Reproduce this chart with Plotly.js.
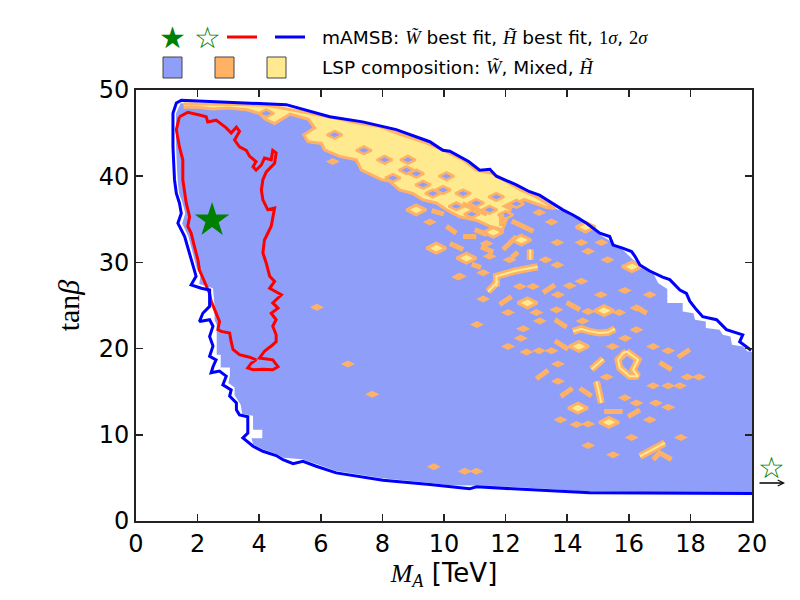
<!DOCTYPE html>
<html><head><meta charset="utf-8">
<script src="https://cdn.plot.ly/plotly-3.0.1.min.js"></script>
<style>html,body{margin:0;padding:0;background:#fff}</style>
</head><body><div id="chart" style="width:800px;height:600px"></div>
<script>
// ---------------- data ----------------
const xTickVals = [0,2,4,6,8,10,12,14,16,18,20];
const yTickVals = [0,10,20,30,40,50];

// 2 sigma contour (blue)
const blueContour = [[19.97,19.8],[19.93,19.9],[19.6,20.8],[19.7,21.6],[19.5,21.8],[19.17,22.2],[18.85,23.35],[18.4,23.7],[18.2,24.5],[17.98,25.5],[17.87,26.4],[17.66,26.8],[17.33,28.0],[17.1,28.3],[16.68,29.0],[16.36,29.7],[16.2,30.7],[16.09,31.26],[15.8,31.65],[15.49,32.0],[15.38,33.0],[15.06,33.4],[14.63,34.55],[14.19,35.5],[13.86,36.1],[13.33,37.25],[13.1,37.8],[12.78,38.2],[12.35,39.0],[11.7,40.0],[11.49,40.8],[11.16,40.7],[10.8,41.7],[10.19,42.9],[9.96,43.0],[9.54,44.0],[8.45,45.4],[7.36,46.3],[6.29,46.9],[4.88,48.3],[3.04,48.6],[1.47,48.8],[1.31,48.5],[1.2,47.3],[1.2,43.4],[1.25,39.6],[1.31,38.0],[1.41,36.9],[1.47,35.7],[1.36,34.55],[1.58,33.0],[1.74,31.1],[1.85,29.5],[1.95,28.4],[1.79,27.4],[2.12,27.0],[2.39,26.8],[2.39,24.9],[2.17,24.1],[2.06,23.15],[2.39,23.35],[2.5,22.6],[2.39,21.4],[2.5,20.3],[2.39,19.1],[2.6,18.7],[2.5,17.9],[2.44,17.2],[2.71,17.4],[2.93,16.8],[2.82,15.8],[3.09,15.2],[3.04,14.5],[3.26,13.7],[3.26,12.9],[3.36,12.3],[3.63,12.1],[3.63,10.2],[3.47,9.64],[3.8,8.67],[4.12,8.09],[4.55,7.59],[4.77,7.13],[5.1,6.66],[5.42,6.93],[5.85,6.35],[6.5,5.58],[8.02,4.73],[9.54,4.23],[10.19,3.96],[10.83,3.73],[11.05,3.96],[13.43,3.57],[14.73,3.27],[20.0,3.19]];

// 1 sigma contour (red)
const redContour = [[1.41,46.9],[1.68,47.4],[2.06,47.1],[2.28,46.9],[2.33,46.3],[2.6,46.5],[2.93,45.6],[3.09,45.0],[3.26,45.7],[3.36,45.2],[3.2,44.2],[3.36,43.4],[3.58,43.0],[3.69,42.3],[3.9,41.7],[3.8,41.1],[3.9,40.7],[4.07,41.3],[4.17,42.1],[4.39,41.9],[4.44,43.0],[4.55,42.7],[4.5,41.5],[4.23,40.5],[4.12,39.6],[4.07,38.4],[4.12,37.25],[4.28,36.1],[4.5,36.3],[4.44,35.3],[4.39,34.2],[4.17,32.6],[4.12,31.1],[4.23,29.9],[4.34,28.4],[4.5,27.8],[4.34,27.0],[4.72,26.25],[4.44,25.3],[4.61,24.7],[4.39,24.1],[4.55,23.35],[4.44,22.6],[4.55,21.6],[4.55,20.8],[4.39,20.3],[4.17,19.7],[4.01,18.9],[4.23,18.8],[4.44,18.7],[4.61,17.9],[4.44,17.55],[4.12,17.6],[3.8,17.55],[3.63,17.75],[3.74,18.3],[3.9,18.7],[3.69,19.0],[3.36,19.3],[3.15,19.9],[3.09,20.8],[3.04,21.8],[2.77,22.0],[2.66,22.2],[2.71,23.15],[2.55,24.5],[2.44,25.5],[2.39,26.4],[2.28,27.4],[2.17,28.2],[2.06,29.1],[2.01,30.3],[1.9,31.8],[1.79,33.4],[1.68,34.2],[1.74,35.3],[1.63,36.9],[1.52,39.6],[1.52,41.9],[1.41,43.4],[1.31,45.4],[1.41,46.9]];

// sampled region (wino-like LSP, blue fill)
const sampledRegion = [[1.45,48.45],[3.0,48.35],[4.3,48.2],[4.99,47.75],[6.39,46.8],[7.15,46.2],[7.91,45.75],[8.56,44.9],[9.32,44.0],[9.97,43.05],[10.62,41.9],[11.05,40.7],[11.59,40.3],[12.5,38.4],[13.0,37.6],[13.65,36.2],[14.41,35.3],[15.06,33.2],[15.71,31.8],[16.14,30.3],[16.79,28.8],[16.95,27.6],[17.25,26.9],[17.25,25.3],[17.75,25.3],[17.75,24.3],[18.1,24.1],[18.15,23.35],[18.5,23.15],[18.5,22.4],[18.95,22.2],[19.05,21.6],[19.3,21.4],[19.35,20.45],[19.7,20.25],[19.85,19.7],[20,19.6],[20,3.3],[14.7,3.4],[13.4,3.7],[11.5,4.1],[10.2,4.15],[9.5,4.45],[8.0,4.95],[6.5,5.8],[5.9,6.55],[5.4,7.15],[4.8,7.35],[4.5,7.85],[4.1,8.35],[3.8,8.9],[3.75,9.6],[4.1,9.6],[4.1,10.6],[3.8,10.6],[3.8,12.2],[3.45,12.4],[3.4,13.5],[3.2,14.6],[3.2,15.5],[3.0,16.0],[3.05,16.9],[3.05,17.8],[2.75,17.8],[2.75,19.3],[2.62,19.3],[2.62,22.8],[2.55,23.3],[2.55,25.0],[2.5,27.0],[2.05,27.5],[2.1,28.5],[1.98,29.2],[1.85,31.0],[1.7,33.0],[1.5,34.5],[1.6,35.7],[1.5,37.0],[1.4,38.0],[1.35,39.6],[1.3,43.4],[1.3,47.3],[1.45,48.45]];

// higgsino-like band along the upper edge
const higgsinoBand = [[1.55,48.4],[3.0,48.35],[4.3,48.2],[4.99,47.75],[6.39,46.8],[7.15,46.2],[7.91,45.75],[8.56,44.9],[9.32,44.0],[9.97,43.05],[10.62,41.9],[11.05,40.7],[11.59,40.3],[12.5,38.4],[13.0,37.6],[13.6,36.25],[13.3,36.4],[12.6,37.3],[12.2,36.6],[11.9,33.8],[11.48,34.2],[11.05,34.9],[10.51,35.3],[10.08,36.1],[9.75,36.9],[9.32,37.25],[8.99,38.0],[8.56,38.4],[8.24,39.4],[7.97,39.6],[7.64,40.15],[7.32,40.7],[7.15,41.9],[6.61,42.3],[6.12,43.05],[6.02,43.8],[5.58,44.0],[5.45,44.8],[5.8,45.6],[5.6,46.6],[5.0,47.2],[4.5,46.1],[4.2,46.6],[4.0,47.3],[3.6,47.7],[3.0,47.9],[2.5,47.8],[2.0,48.0],[1.55,48.0]];

// wino pockets inside the higgsino band
const winoPockets = [[6.45,44.8],[8.07,41.9],[8.83,41.9],[8.78,40.7],[8.34,39.8],[9.32,39.0],[10.08,40.0],[9.97,38.4],[10.62,38.0],[11.05,36.9],[10.4,36.5],[11.48,36.1],[11.7,37.6],[9.64,38.0],[12.0,35.5],[4.23,47.3],[7.4,43.0],[12.35,36.8],[9.1,40.3],[10.9,35.6]];

// isolated higgsino islands
const higgsinoIslands = [[9.1,36.1],[9.75,31.65],[10.73,30.5],[12.51,32.6],[12.71,25.3],[15.2,24.4],[14.38,20.25],[14.35,13.1],[15.36,11.45],[14.6,34.1],[16.1,29.5],[11.6,33.5]];

// mixed-composition points
const mixedPoints = [[5.87,24.8],[6.88,18.2],[7.67,14.7],[10.46,28.3],[9.67,6.28],[10.67,5.77],[11.05,5.77],[11.27,25.75],[12.08,24.2],[13.11,23.2],[12.46,27.2],[12.89,27.2],[13.7,26.25],[14.08,27.3],[14.46,27.8],[14.5,23.2],[12.49,21.2],[12.08,20.25],[13.09,19.75],[13.49,19.75],[13.7,18.2],[13.7,16.2],[15.28,16.7],[15.09,26.25],[15.69,24.2],[15.87,26.75],[16.25,24.7],[16.25,22.2],[15.47,20.25],[15.88,21.2],[14.3,11.2],[14.68,11.26],[15.87,14.3],[16.25,13.7],[16.09,9.7],[14.68,8.75],[15.49,7.7],[11.07,22.8],[16.68,26.25],[17.28,19.75],[17.9,16.7],[18.28,16.7],[17.28,15.7],[17.66,15.7],[16.88,13.7],[17.28,13.2],[16.68,11.76],[17.69,9.7],[13.09,35.8],[13.49,34.7],[13.68,32.3],[14.46,32.3],[15.11,32.3],[14.68,31.3],[15.31,30.3],[13.3,30.3],[13.68,29.7],[14.68,24.3],[6.39,41.7],[9.54,34.7],[11.48,30.7],[10.51,28.4],[11.27,28.8],[12.13,30.3],[13.0,24.2],[12.57,22.3],[13.78,11.76],[16.79,20.25],[16.79,15.7],[13.65,24.5],[12.68,19.6],[12.08,36.5],[11.38,32.2]];

// mixed-composition streaks
const mixedStreaks = [
  [[11.81,25.1],[12.19,26.05]],[[13.22,26.5],[13.6,27.4]],[[13.98,25.35],[14.41,24.5]],
  [[13.6,23.35],[13.98,22.5]],[[13.6,20.9],[14.03,19.95]],[[13.0,16.5],[13.38,17.5]],
  [[13.79,14.46],[14.17,15.4]],[[14.41,15.4],[14.79,14.5]],[[15.2,12.7],[15.8,12.7]],
  [[15.98,12.1],[16.36,12.9]],[[16.2,24.9],[16.58,24.1]],[[17.6,19.0],[17.98,19.9]],
  [[17.0,18.4],[17.39,17.55]],[[16.79,7.13],[17.0,7.9],[17.39,7.13]],[[11.87,35.6],[11.87,34.2]],
  [[10.08,34.2],[10.4,33.4]],[[10.62,33.0],[11.05,33.0]],[[10.19,32.2],[10.62,31.5]],[[11.92,31.5],[12.35,33.0]],
  [[10.6,36.8],[11.0,36.2],[11.4,35.6]],[[9.6,36.0],[10.0,35.6]],[[11.0,33.8],[11.4,33.2]],
  [[12.2,34.8],[12.6,34.2],[12.9,33.6]],[[11.2,31.8],[11.6,31.2]],[[10.9,29.8],[11.2,29.4]],[[12.4,31.2],[12.2,30.6]]
];

// mixed streaks with a higgsino core
const coreStreaks = [
  [[14.95,16.2],[15.11,13.7]],[[14.79,17.6],[15.17,18.8]],
  [[14.19,22.0],[14.46,22.3],[14.73,22.0],[15.06,21.8],[15.33,21.9],[15.55,22.3]],
  [[16.36,7.5],[17.17,9.06]],
  [[15.93,19.68],[16.3,18.71],[16.14,17.55],[16.3,16.78],[16.03,16.78],[15.71,17.75],[15.65,18.71],[15.82,19.49],[15.93,19.68]],
  [[11.7,27.2],[11.7,28.4],[12.3,29.0],[13.04,29.5]],[[12.8,31.5],[12.8,30.3]],[[11.43,26.6],[11.75,27.8]]
];

const winoBestFit = [2.47, 34.9];

// ---------------- helpers ----------------
const xs = a => a.map(p => p[0]);
const ys = a => a.map(p => p[1]);
function flatten(lines){
  const X=[],Y=[];
  lines.forEach(l=>{ l.forEach(p=>{X.push(p[0]);Y.push(p[1]);}); X.push(null); Y.push(null); });
  return {x:X,y:Y};
}
const C_BLUE='#8f9ff9', C_ORANGE='#ffb266', C_YELLOW='#ffea8f', C_GREEN='#008000';

const streaks = flatten(mixedStreaks);
const cores = flatten(coreStreaks);

const traces = [
  {type:'scatter',mode:'lines',x:xs(sampledRegion),y:ys(sampledRegion),fill:'toself',fillcolor:C_BLUE,line:{width:0,color:C_BLUE},hoverinfo:'skip'},
  {type:'scatter',mode:'lines',x:xs(higgsinoBand),y:ys(higgsinoBand),fill:'toself',fillcolor:C_YELLOW,line:{width:3,color:C_ORANGE},hoverinfo:'skip'},
  {type:'scatter',mode:'markers',x:xs(winoPockets),y:ys(winoPockets),marker:{symbol:'diamond-wide',size:11,color:C_BLUE,line:{width:2.5,color:C_ORANGE}},hoverinfo:'skip'},
  {type:'scatter',mode:'markers',x:xs(higgsinoIslands),y:ys(higgsinoIslands),marker:{symbol:'diamond-wide',size:14,color:C_YELLOW,line:{width:3,color:C_ORANGE}},hoverinfo:'skip'},
  {type:'scatter',mode:'lines',x:streaks.x,y:streaks.y,line:{width:5,color:C_ORANGE},connectgaps:false,hoverinfo:'skip'},
  {type:'scatter',mode:'lines',x:cores.x,y:cores.y,line:{width:7,color:C_ORANGE},connectgaps:false,hoverinfo:'skip'},
  {type:'scatter',mode:'lines',x:cores.x,y:cores.y,line:{width:2,color:C_YELLOW},connectgaps:false,hoverinfo:'skip'},
  {type:'scatter',mode:'markers',x:xs(mixedPoints),y:ys(mixedPoints),marker:{symbol:'diamond-wide',size:10,color:C_ORANGE,line:{width:0}},hoverinfo:'skip'},
  {type:'scatter',mode:'lines',x:xs(redContour),y:ys(redContour),line:{width:3,color:'#ff0000'},hoverinfo:'skip'},
  {type:'scatter',mode:'lines',x:xs(blueContour),y:ys(blueContour),line:{width:3,color:'#0000ff'},hoverinfo:'skip'},
  {type:'scatter',mode:'markers',x:[winoBestFit[0]],y:[winoBestFit[1]],marker:{symbol:'star',size:26,color:C_GREEN,line:{width:0}},hoverinfo:'skip'}
];

// ---------------- layout ----------------
const W=800,H=600,L=136,R=48,T=90,B=79;
const pw=W-L-R, ph=H-T-B;
const px = v => (v-L)/pw;
const py = v => (H-B-v)/ph;
const serif = s => '<span style="font-family:Liberation Serif">'+s+'</span>';

const axisCommon = {
  showgrid:false, zeroline:false, showline:true, linecolor:'#222', linewidth:2,
  mirror:'ticks', ticks:'inside', ticklen:7, tickwidth:1.5, tickcolor:'#222',
  tickfont:{family:'DejaVu Sans',size:24,color:'#000'}, fixedrange:true
};

const legendText1 = 'mAMSB: '+serif('<i>W\u0303</i>')+' best fit, '+serif('<i>H\u0303</i>')+' best fit, '+serif('1<i>σ</i>')+', '+serif('2<i>σ</i>');
const legendText2 = 'LSP composition: '+serif('<i>W\u0303</i>')+', Mixed, '+serif('<i>H\u0303</i>');

const layout = {
  width:W, height:H,
  margin:{l:L,r:R,t:T,b:B,pad:0},
  paper_bgcolor:'#fff', plot_bgcolor:'#fff',
  showlegend:false,
  xaxis:Object.assign({}, axisCommon, {range:[0,20], tickvals:xTickVals, ticktext:xTickVals.map(String),
    title:{text:serif('<i>M</i><sub><i>A</i></sub>')+' [TeV]', font:{family:'DejaVu Sans',size:26,color:'#000'}, standoff:4}}),
  yaxis:Object.assign({}, axisCommon, {range:[0,50], tickvals:yTickVals, ticktext:yTickVals.map(String),
    title:{text:serif('tan<i>β</i>'), font:{family:'DejaVu Sans',size:30,color:'#000'}, standoff:10}}),
  shapes:[
    {type:'line',xref:'paper',yref:'paper',x0:px(227),x1:px(257),y0:py(37),y1:py(37),line:{color:'#ff0000',width:3}},
    {type:'line',xref:'paper',yref:'paper',x0:px(275),x1:px(305),y0:py(37),y1:py(37),line:{color:'#0000ff',width:3}},
    {type:'rect',xref:'paper',yref:'paper',x0:px(163),x1:px(182),y0:py(57),y1:py(78),fillcolor:C_BLUE,line:{color:'#444',width:1}},
    {type:'rect',xref:'paper',yref:'paper',x0:px(215),x1:px(234),y0:py(57),y1:py(78),fillcolor:C_ORANGE,line:{color:'#444',width:1}},
    {type:'rect',xref:'paper',yref:'paper',x0:px(267),x1:px(286),y0:py(57),y1:py(78),fillcolor:C_YELLOW,line:{color:'#444',width:1}}
  ],
  annotations:[
    {xref:'paper',yref:'paper',x:px(172.5),y:py(38),text:'★',showarrow:false,font:{family:'DejaVu Sans',size:30,color:C_GREEN},xanchor:'center',yanchor:'middle'},
    {xref:'paper',yref:'paper',x:px(207),y:py(38),text:'☆',showarrow:false,font:{family:'DejaVu Sans',size:30,color:C_GREEN},xanchor:'center',yanchor:'middle'},
    {xref:'paper',yref:'paper',x:px(320),y:py(38),text:legendText1,showarrow:false,font:{family:'DejaVu Sans',size:18.5,color:'#000'},xanchor:'left',yanchor:'middle'},
    {xref:'paper',yref:'paper',x:px(320),y:py(67),text:legendText2,showarrow:false,font:{family:'DejaVu Sans',size:18.5,color:'#000'},xanchor:'left',yanchor:'middle'},
    // Higgsino best fit lies beyond the plotted M_A range: open star with arrow
    {xref:'paper',yref:'paper',x:px(771.5),y:py(467),text:'☆',showarrow:false,font:{family:'DejaVu Sans',size:30,color:C_GREEN},xanchor:'center',yanchor:'middle'},
    {xref:'paper',yref:'paper',x:px(785),y:py(483),ax:-27,ay:0,text:'',showarrow:true,arrowhead:5,arrowsize:0.9,arrowwidth:1.3,arrowcolor:'#000'}
  ]
};

Plotly.newPlot('chart', traces, layout, {staticPlot:true, displayModeBar:false});
</script>
</body></html>
